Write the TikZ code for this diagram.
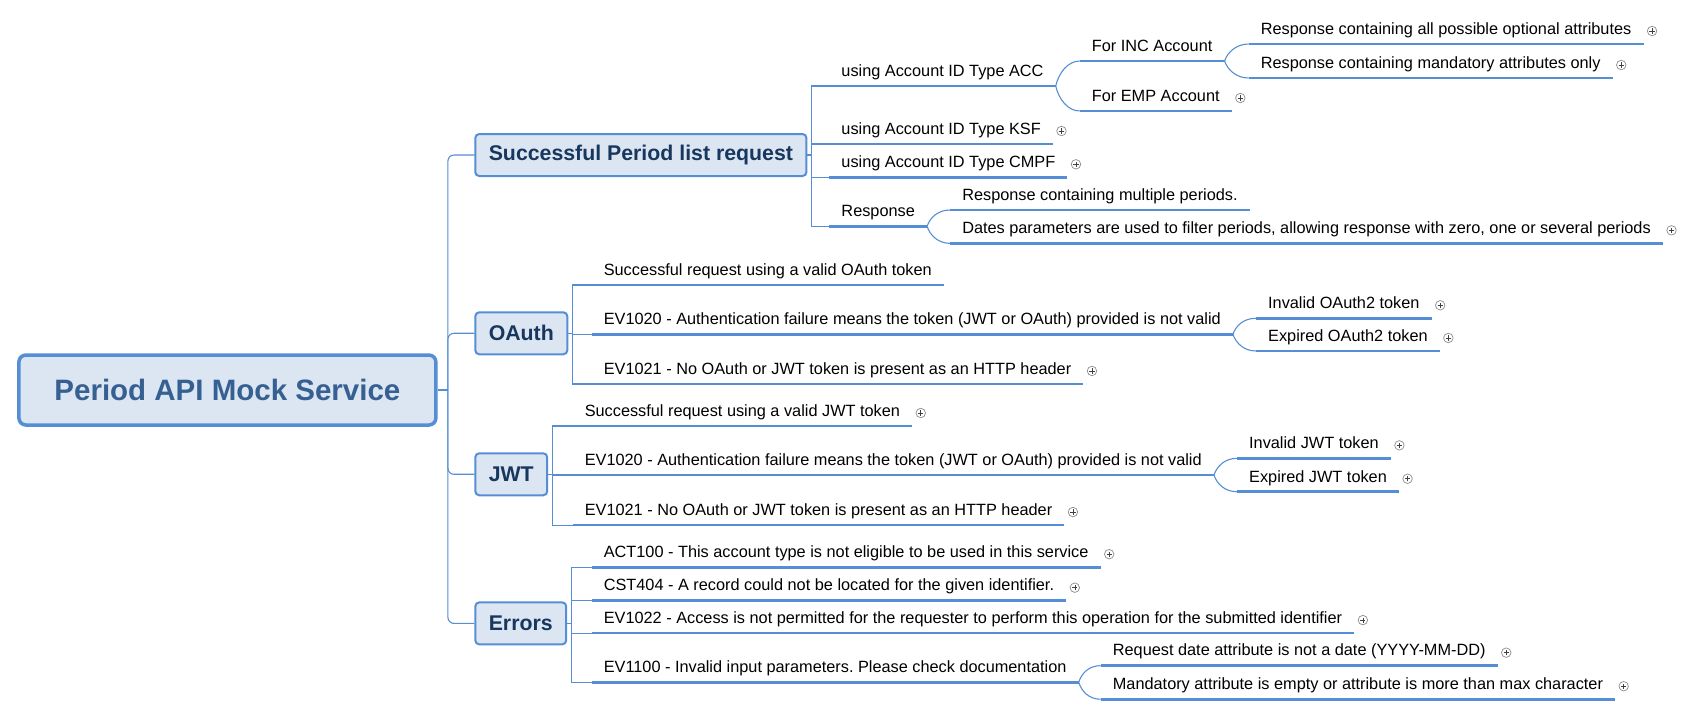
\documentclass[tikz,border=0pt]{standalone}
\usepackage{fontspec}
\setmainfont{Liberation Sans}
\usetikzlibrary{positioning, calc}
\frenchspacing

\definecolor{lineblue}{HTML}{558ED5}
\definecolor{boxfill}{HTML}{DCE6F2}
\definecolor{topictext}{HTML}{17375E}
\definecolor{roottext}{HTML}{376092}
\definecolor{iconrim}{HTML}{8C8C8C}

\tikzset{
    central/.style={
        rectangle,
        rounded corners=7pt,
        draw=lineblue,
        line width=3.5pt,
        fill=boxfill,
        minimum width=417pt,
        minimum height=70pt,
        text=roottext,
        font=\fontsize{29.5}{35}\selectfont\bfseries
    },
    topic/.style={
        rectangle,
        rounded corners=4pt,
        draw=lineblue,
        line width=2pt,
        fill=boxfill,
        inner xsep=13.5pt,
        minimum height=42pt,
        anchor=west,
        text=topictext,
        font=\fontsize{21.3}{25}\selectfont\bfseries
    },
    leaf/.style={
        anchor=south west,
        inner xsep=12pt,
        inner ysep=9.5pt,
        text depth=0pt,
        font=\fontsize{16.3}{19}\selectfont
    },
    uline/.style={
        draw=lineblue,
        line width=2.7pt
    },
    conn/.style={
        draw=lineblue,
        line width=1.1pt
    },
    forkup/.style={
        to path={.. controls +(3pt,9pt) and +(-12pt,0pt) .. (\tikztotarget)}
    },
    forkdown/.style={
        to path={.. controls +(3pt,-9pt) and +(-12pt,0pt) .. (\tikztotarget)}
    },
    expd/.style={
        circle,
        draw=iconrim,
        line width=0.7pt,
        fill=white,
        minimum size=9.5pt,
        inner sep=0pt,
        path picture={
            \draw[black!75, line width=0.6pt]
                (path picture bounding box.center) +(-2.6pt,0) -- +(2.6pt,0)
                (path picture bounding box.center) +(0,-2.6pt) -- +(0,2.6pt);
        }
    }
}

\begin{document}
\begin{tikzpicture}[x=1.0804pt, y=-1.0804pt]

\useasboundingbox (0,0) rectangle (1568,662.7);

% Root and main topics
\node[central] (root) at (210.5,361) {Period API Mock Service};
\coordinate (trunk) at (414.6,361);

\node[topic] (succ) at (439,143.5) {Successful Period list request};
\node[topic] (oauth) at (439,308.5) {OAuth};
\node[topic] (jwt) at (439,439) {JWT};
\node[topic] (errs) at (439,577) {Errors};

\draw[conn] (root.east) -- (trunk);
\draw[conn, rounded corners=6pt] (trunk) |- (succ.west);
\draw[conn, rounded corners=6pt] (trunk) |- (oauth.west);
\draw[conn, rounded corners=6pt] (trunk) |- (jwt.west);
\draw[conn, rounded corners=6pt] (trunk) |- (errs.west);

% Successful Period list request
\node[leaf] (acc) at (767.6,79.6) {using Account ID Type ACC};
\node[leaf] (ksf) at (767.6,133.3) {using Account ID Type KSF};
\node[leaf] (cmpf) at (767.6,164.1) {using Account ID Type CMPF};
\node[leaf] (resp) at (767.6,209.5) {Response};

\node[leaf] (inc) at ([shift={(24pt,25pt)}]acc.south east) {For INC Account};
\node[leaf] (emp) at ([shift={(24pt,-25pt)}]acc.south east) {For EMP Account};
\node[leaf] (opt) at ([shift={(24pt,17pt)}]inc.south east) {Response containing all possible optional attributes};
\node[leaf] (mand) at ([shift={(24pt,-17pt)}]inc.south east) {Response containing mandatory attributes only};
\node[leaf] (multi) at ([shift={(23pt,16.3pt)}]resp.south east) {Response containing multiple periods.};
\node[leaf] (dates) at ([shift={(23pt,-17pt)}]resp.south east) {Dates parameters are used to filter periods, allowing response with zero, one or several periods};

\coordinate[right=4pt of succ.east] (succ-bus);
\draw[conn] (succ.east) -- (succ-bus);
\draw[conn] (succ-bus) |- (acc.south west);
\draw[conn] (succ-bus) |- (ksf.south west);
\draw[conn] (succ-bus) |- (cmpf.south west);
\draw[conn] (succ-bus) |- (resp.south west);

\draw[conn] (acc.south east) .. controls +(3pt,13pt) and +(-12pt,0pt) .. (inc.south west);
\draw[conn] (acc.south east) .. controls +(3pt,-13pt) and +(-12pt,0pt) .. (emp.south west);
\draw[conn] (inc.south east) to[forkup] (opt.south west);
\draw[conn] (inc.south east) to[forkdown] (mand.south west);
\draw[conn] (resp.south east) to[forkup] (multi.south west);
\draw[conn] (resp.south east) to[forkdown] (dates.south west);

% OAuth
\node[leaf] (otok) at (547.6,263.8) {Successful request using a valid OAuth token};
\node[leaf] (oev20) at (547.6,309.4) {EV1020 - Authentication failure means the token (JWT or OAuth) provided is not valid};
\node[leaf] (oev21) at (547.6,355.4) {EV1021 - No OAuth or JWT token is present as an HTTP header};
\node[leaf] (oinv) at ([shift={(23pt,16pt)}]oev20.south east) {Invalid OAuth2 token};
\node[leaf] (oexp) at ([shift={(23pt,-16.7pt)}]oev20.south east) {Expired OAuth2 token};

\coordinate[right=4pt of oauth.east] (oauth-bus);
\draw[conn] (oauth.east) -- (oauth-bus);
\draw[conn] (oauth-bus) |- (otok.south west);
\draw[conn] (oauth-bus) |- (oev20.south west);
\draw[conn] (oauth-bus) |- (oev21.south west);
\draw[conn] (oev20.south east) to[forkup] (oinv.south west);
\draw[conn] (oev20.south east) to[forkdown] (oexp.south west);

% JWT
\node[leaf] (jtok) at (530,394.3) {Successful request using a valid JWT token};
\node[leaf] (jev20) at (530,439.7) {EV1020 - Authentication failure means the token (JWT or OAuth) provided is not valid};
\node[leaf] (jev21) at (530,486) {EV1021 - No OAuth or JWT token is present as an HTTP header};
\node[leaf] (jinv) at ([shift={(23pt,16.7pt)}]jev20.south east) {Invalid JWT token};
\node[leaf] (jexp) at ([shift={(23pt,-16.7pt)}]jev20.south east) {Expired JWT token};

\coordinate[right=4pt of jwt.east] (jwt-bus);
\draw[conn] (jwt.east) -- (jwt-bus);
\draw[conn] (jwt-bus) |- (jtok.south west);
\draw[conn] (jwt-bus) |- (jev20.south west);
\draw[conn] (jwt-bus) |- (jev21.south west);
\draw[conn] (jev20.south east) to[forkup] (jinv.south west);
\draw[conn] (jev20.south east) to[forkdown] (jexp.south west);

% Errors
\node[leaf] (act) at (547.6,525) {ACT100 - This account type is not eligible to be used in this service};
\node[leaf] (cst) at (547.6,556) {CST404 - A record could not be located for the given identifier.};
\node[leaf] (ev22) at (547.6,586) {EV1022 - Access is not permitted for the requester to perform this operation for the submitted identifier};
\node[leaf] (ev1100) at (547.6,631.5) {EV1100 - Invalid input parameters. Please check documentation};
\node[leaf] (reqd) at ([shift={(22pt,16.6pt)}]ev1100.south east) {Request date attribute is not a date (YYYY-MM-DD)};
\node[leaf] (mattr) at ([shift={(22pt,-17pt)}]ev1100.south east) {Mandatory attribute is empty or attribute is more than max character};

\coordinate[right=4pt of errs.east] (errs-bus);
\draw[conn] (errs.east) -- (errs-bus);
\draw[conn] (errs-bus) |- (act.south west);
\draw[conn] (errs-bus) |- (cst.south west);
\draw[conn] (errs-bus) |- (ev22.south west);
\draw[conn] (errs-bus) |- (ev1100.south west);
\draw[conn] (ev1100.south east) to[forkup] (reqd.south west);
\draw[conn] (ev1100.south east) to[forkdown] (mattr.south west);

% Underlines and expand marks
\foreach \n in {acc, ksf, cmpf, resp, inc, emp, opt, mand, multi, dates,
                otok, oev20, oev21, oinv, oexp, jtok, jev20, jev21, jinv, jexp,
                act, cst, ev22, ev1100, reqd, mattr}
    \draw[uline] (\n.south west) -- (\n.south east);

\foreach \n in {emp, ksf, cmpf, opt, mand, dates, oinv, oexp, oev21,
                jtok, jinv, jexp, jev21, act, cst, ev22, reqd, mattr}
    \node[expd] (\n-x) at ([shift={(8.5pt,13pt)}]\n.south east) {};

\end{tikzpicture}
\end{document}
